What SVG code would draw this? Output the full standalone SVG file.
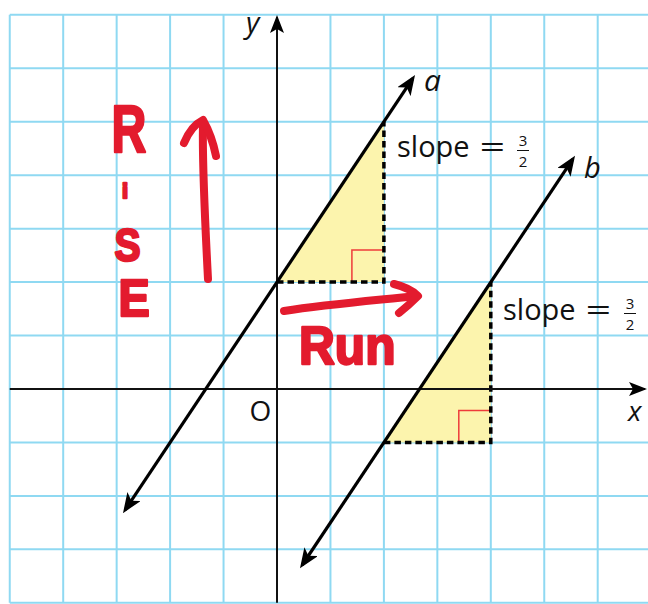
<svg xmlns="http://www.w3.org/2000/svg" width="648" height="604" viewBox="0 0 648 604">
  <style>
    .grid line { stroke: #8fd9f2; stroke-width: 2; }
    .axis { stroke: #111; stroke-width: 2; fill: none; }
    .line { stroke: #000; stroke-width: 3.2; fill: none; }
    .dash { stroke: #000; stroke-width: 3.5; stroke-dasharray: 6.5 4; fill: none; }
    .tri { fill: #fcf4ad; stroke: none; }
    .ra { stroke: #ee3b3b; stroke-width: 1.5; fill: none; }
    .lbl { font-family: "Open Sans", "Noto Sans", sans-serif; fill: #111; }
    .it { font-style: italic; }
    .frac { font-size: 15px; text-anchor: middle; }
    .hand { font-family: "Liberation Sans", Arial, sans-serif; font-weight: bold; fill: #e31b2e; stroke: #e31b2e; stroke-width: 2.5; stroke-linejoin: round; }
    .redpen { stroke: #e31b2e; stroke-width: 8; stroke-linecap: round; stroke-linejoin: round; fill: none; }
  </style>
  <defs>
    <marker id="arr" viewBox="0 0 20 16" markerWidth="20" markerHeight="16" refX="16" refY="8" orient="auto-start-reverse" markerUnits="userSpaceOnUse">
      <path d="M0,0 L20,8 L0,16 L5,8 Z" fill="#000"/>
    </marker>
    <marker id="axarr" viewBox="0 0 18 14" markerWidth="18" markerHeight="14" refX="16" refY="7" orient="auto" markerUnits="userSpaceOnUse">
      <path d="M0,0 L18,7 L0,14 L4,7 Z" fill="#000"/>
    </marker>
  </defs>
  <rect width="648" height="604" fill="#fff"/>

  <g id="grid" class="grid">
    <line x1="9.75" y1="14.85" x2="9.75" y2="602.8"/>
    <line x1="63.2" y1="14.85" x2="63.2" y2="602.8"/>
    <line x1="116.65" y1="14.85" x2="116.65" y2="602.8"/>
    <line x1="170.1" y1="14.85" x2="170.1" y2="602.8"/>
    <line x1="223.55" y1="14.85" x2="223.55" y2="602.8"/>
    <line x1="330.45" y1="14.85" x2="330.45" y2="602.8"/>
    <line x1="383.9" y1="14.85" x2="383.9" y2="602.8"/>
    <line x1="437.35" y1="14.85" x2="437.35" y2="602.8"/>
    <line x1="490.8" y1="14.85" x2="490.8" y2="602.8"/>
    <line x1="544.25" y1="14.85" x2="544.25" y2="602.8"/>
    <line x1="597.7" y1="14.85" x2="597.7" y2="602.8"/>
    <line x1="9.75" y1="14.85" x2="648" y2="14.85"/>
    <line x1="9.75" y1="68.3" x2="648" y2="68.3"/>
    <line x1="9.75" y1="121.75" x2="648" y2="121.75"/>
    <line x1="9.75" y1="175.2" x2="648" y2="175.2"/>
    <line x1="9.75" y1="228.65" x2="648" y2="228.65"/>
    <line x1="9.75" y1="282.1" x2="648" y2="282.1"/>
    <line x1="9.75" y1="335.55" x2="648" y2="335.55"/>
    <line x1="9.75" y1="442.45" x2="648" y2="442.45"/>
    <line x1="9.75" y1="495.9" x2="648" y2="495.9"/>
    <line x1="9.75" y1="549.35" x2="648" y2="549.35"/>
    <line x1="9.75" y1="602.8" x2="648" y2="602.8"/>
  </g>

  <g id="triangle-a">
    <polygon class="tri" points="277,282.1 383.9,282.1 383.9,121.75"/>
    <path class="ra" d="M351.9,282.1 V250.1 H383.9"/>
    <path class="dash" d="M277,282.1 H383.9 V121.75"/>
  </g>
  <g id="triangle-b">
    <polygon class="tri" points="383.9,442.45 490.8,442.45 490.8,282.1"/>
    <path class="ra" d="M458.8,442.45 V410.45 H490.8"/>
    <path class="dash" d="M383.9,442.45 H490.8 V282.1"/>
  </g>

  <g id="axes">
    <path class="axis" d="M9.75,389 H645" marker-end="url(#axarr)"/>
    <path class="axis" d="M277,602.8 V17" marker-end="url(#axarr)"/>
  </g>

  <g id="connectors">
    <path id="line-a" class="line" d="M125.2,509.8 L412.8,78.4" marker-start="url(#arr)" marker-end="url(#arr)"/>
    <path id="line-b" class="line" d="M302.2,565 L572.8,159.1" marker-start="url(#arr)" marker-end="url(#arr)"/>
  </g>

  <g id="labels" class="lbl">
    <text class="it" x="246" y="33" font-size="29">y</text>
    <text class="it" x="628" y="421" font-size="28">x</text>
    <text x="260.5" y="421" font-size="28" text-anchor="middle">O</text>
    <text class="it" x="424" y="91" font-size="30">a</text>
    <text class="it" x="584" y="178" font-size="29">b</text>
  </g>

  <g id="slope-a" class="lbl">
    <text x="397" y="157" font-size="29">slope</text>
    <text transform="translate(479.5,157) scale(1.5,1)" font-size="30">=</text>
    <text class="frac" x="523" y="146">3</text>
    <line x1="517" y1="150.5" x2="529" y2="150.5" stroke="#111" stroke-width="1"/>
    <text class="frac" x="523" y="167">2</text>
  </g>
  <g id="slope-b" class="lbl">
    <text x="503" y="320" font-size="29">slope</text>
    <text transform="translate(585.5,320) scale(1.5,1)" font-size="30">=</text>
    <text class="frac" x="630" y="309">3</text>
    <line x1="624" y1="313.5" x2="636" y2="313.5" stroke="#111" stroke-width="1"/>
    <text class="frac" x="630" y="330">2</text>
  </g>

  <g id="rise">
    <text class="hand" transform="translate(129,152) scale(0.72,1)" font-size="67" text-anchor="middle">R</text>
    <text class="hand" x="125" y="198" font-size="20" text-anchor="middle">i</text>
    <text class="hand" transform="translate(127.5,261) scale(0.85,1)" font-size="46" text-anchor="middle">S</text>
    <text class="hand" transform="translate(134,316) scale(0.9,1)" font-size="52" text-anchor="middle">E</text>
    <path class="redpen" d="M208,279 C205,220 202,165 203,124"/>
    <path class="redpen" d="M184,143 Q191,126 203,120 Q212,136 216,156"/>
  </g>
  <g id="run">
    <path class="redpen" d="M284,311 C330,304 380,300 416,296"/>
    <path class="redpen" d="M394,284 Q410,288 418,296 Q409,305 399,313"/>
    <text class="hand" transform="translate(299,364) scale(0.92,1)" font-size="54">Run</text>
  </g>
</svg>
